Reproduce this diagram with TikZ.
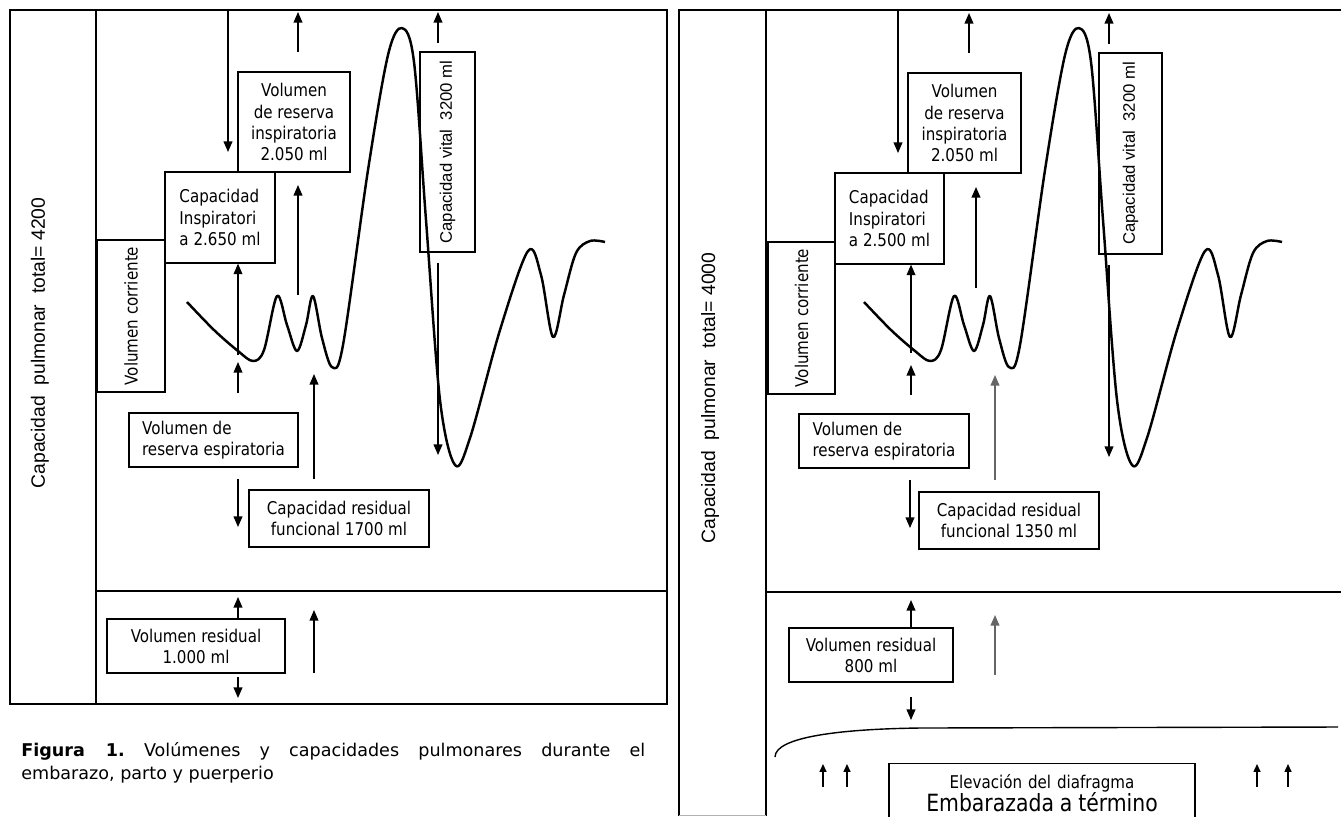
\documentclass[tikz,border=0pt]{standalone}
\usepackage{fontspec}
\setmainfont{DejaVu Sans}
\newfontfamily\boxfont[FakeStretch=0.86]{DejaVu Sans}
\newfontfamily\labelfont{Liberation Sans}
\usetikzlibrary{arrows.meta}
\frenchspacing

\newcommand\spiro[1]{%
  \draw[curve, shift={(#1,0)}] plot[smooth, tension=.55] coordinates {
    (187,302) (214,330) (238,351) (253,361) (264,350) (277,296) (287,325)
    (297,351) (306,325) (313,296) (322,338) (332,367) (343,345) (368,170)
    (388,55) (402,28) (414,62) (426,220) (440,400) (455,465) (470,438)
    (500,330) (528,251) (541,275) (553,337) (564,295) (576,253) (590,241)
    (605,242)};}

\begin{document}
\begin{tikzpicture}[x=0.02cm, y=-0.02cm,
    box/.style={draw, line width=.7pt, inner sep=0pt, align=center,
                font=\boxfont\fontsize{10}{12}\selectfont},
    vital/.style={box, rotate=90, font=\labelfont\fontsize{9.5}{11}\selectfont},
    arr/.style={line width=.7pt, -{Triangle[length=6pt,width=5pt]}},
    tinyarr/.style={line width=.7pt, -{Triangle[length=4.5pt,width=4pt]}},
    frame/.style={line width=.8pt},
    curve/.style={line width=1.4pt, line join=round},
    total/.style={rotate=90, font=\labelfont\fontsize{11}{13}\selectfont}]
  \useasboundingbox (0,0) rectangle (1341,816);
  \clip (0,0) rectangle (1341,816);

  % embarazo
  \draw[frame] (10,10) rectangle (667,704);
  \draw[frame] (96,10) -- (96,704);
  \draw[frame] (96,591) -- (667,591);
  \node[total] (ltot) at (40,343) {Capacidad\ \ pulmonar\ \ total= 4200};
  \node[box, rotate=90, minimum width=30.4mm, minimum height=13.6mm] (lvc) at (131,316) {Volumen corriente};
  \node[box, align=left, minimum width=22mm, minimum height=18.2mm] (lci) at (220,217.5) {Capacidad\\Inspiratori\\a 2.650 ml};
  \node[box, minimum width=22.4mm, minimum height=20mm] (lvri) at (294,122) {Volumen\\de reserva\\inspiratoria\\2.050 ml};
  \node[vital, minimum width=40mm, minimum height=11mm] (lcv) at (447.5,152) {Capacidad vital\ \ 3200 ml};
  \node[box, align=left, minimum width=33.8mm, minimum height=10.8mm] (lvre) at (213.5,440) {Volumen de\\reserva espiratoria};
  \node[box, minimum width=36mm, minimum height=11.4mm] (lcrf) at (339,518.5) {Capacidad residual\\funcional 1700 ml};
  \node[box, minimum width=35.6mm, minimum height=10.8mm] (lvr) at (196,646) {Volumen residual\\1.000 ml};
  \spiro{0}

  \coordinate (l1a) at (228,10); \coordinate (l1b) at (228,152); \draw[arr] (l1a) -- (l1b);
  \coordinate (l2a) at (298,52); \coordinate (l2b) at (298,12); \draw[arr] (l2a) -- (l2b);
  \coordinate (l3a) at (438,43); \coordinate (l3b) at (438,12); \draw[arr] (l3a) -- (l3b);
  \coordinate (l4a) at (298,295); \coordinate (l4b) at (298,185); \draw[arr] (l4a) -- (l4b);
  \coordinate (l5a) at (238,355); \draw[arr] (l5a) -- (l5a |- lci.south);
  \coordinate (l6a) at (238,393); \coordinate (l6b) at (238,362); \draw[arr] (l6a) -- (l6b);
  \coordinate (l7a) at (314,479); \coordinate (l7b) at (314,374); \draw[arr] (l7a) -- (l7b);
  \coordinate (l8a) at (438,263); \coordinate (l8b) at (438,455); \draw[arr] (l8a) -- (l8b);
  \coordinate (l9a) at (238,479); \coordinate (l9b) at (238,527); \draw[arr] (l9a) -- (l9b);
  \coordinate (l10b) at (238,597); \draw[arr] (l10b |- lvr.north) -- (l10b);
  \coordinate (l11a) at (314,673); \coordinate (l11b) at (314,610); \draw[arr] (l11a) -- (l11b);
  \coordinate (l12a) at (238,677); \coordinate (l12b) at (238,698); \draw[arr] (l12a) -- (l12b);

  \node[anchor=north west, inner sep=0pt, align=left, font=\fontsize{10}{13}\selectfont] (cap) at (21,742)
    {\makebox[124.8mm][s]{\textbf{Figura 1.} Volúmenes y capacidades pulmonares durante el}\\embarazo, parto y puerperio};

  % a termino
  \draw[frame] (679,816) -- (679,10) -- (1341,10);
  \draw[frame] (766,10) -- (766,816);
  \draw[frame] (766,592) -- (1341,592);
  \draw[gray!60] (679,815) -- (766,815);
  \node[total] (rtot) at (710,398) {Capacidad\ \ pulmonar\ \ total= 4000};
  \node[box, rotate=90, minimum width=30.4mm, minimum height=13.4mm] (rvc) at (801.5,318) {Volumen corriente};
  \node[box, align=left, minimum width=21.8mm, minimum height=18.2mm] (rci) at (889.5,218.5) {Capacidad\\Inspiratori\\a 2.500 ml};
  \node[box, minimum width=22.6mm, minimum height=20mm] (rvri) at (964.5,123) {Volumen\\de reserva\\inspiratoria\\2.050 ml};
  \node[vital, minimum width=40.2mm, minimum height=12.6mm] (rcv) at (1130.5,153.5) {Capacidad vital\ \ 3200 ml};
  \node[box, align=left, minimum width=34mm, minimum height=10.8mm] (rvre) at (884,441) {Volumen de\\reserva espiratoria};
  \node[box, minimum width=36mm, minimum height=11.4mm] (rcrf) at (1009,520.5) {Capacidad residual\\funcional 1350 ml};
  \node[box, minimum width=32.8mm, minimum height=10.8mm] (rvr) at (871,655) {Volumen residual\\800 ml};
  \spiro{677}

  \coordinate (r1a) at (898,10); \coordinate (r1b) at (898,153); \draw[arr] (r1a) -- (r1b);
  \coordinate (r2a) at (969,53); \coordinate (r2b) at (969,13); \draw[arr] (r2a) -- (r2b);
  \coordinate (r3a) at (1109,44); \coordinate (r3b) at (1109,13); \draw[arr] (r3a) -- (r3b);
  \coordinate (r4a) at (976,288); \coordinate (r4b) at (976,187); \draw[arr] (r4a) -- (r4b);
  \coordinate (r5a) at (911,353); \draw[arr] (r5a) -- (r5a |- rci.south);
  \coordinate (r6a) at (911,395); \coordinate (r6b) at (911,365); \draw[arr] (r6a) -- (r6b);
  \coordinate (r7a) at (995,480); \coordinate (r7b) at (995,375); \draw[arr, black!60] (r7a) -- (r7b);
  \coordinate (r8a) at (1109,265); \coordinate (r8b) at (1109,457); \draw[arr] (r8a) -- (r8b);
  \coordinate (r9a) at (910,480); \coordinate (r9b) at (910,528); \draw[arr] (r9a) -- (r9b);
  \coordinate (r10b) at (911,600); \draw[arr] (r10b |- rvr.north) -- (r10b);
  \coordinate (r11a) at (995,675); \coordinate (r11b) at (995,615); \draw[arr, black!60] (r11a) -- (r11b);
  \coordinate (r12a) at (911,697); \coordinate (r12b) at (911,720); \draw[arr] (r12a) -- (r12b);

  \coordinate (dia) at (775,757); \coordinate (diaend) at (1338,727);
  \draw[frame] (dia) .. controls (775,737) and (840,729) .. (920,728) -- (diaend);
  \coordinate (u1a) at (823,787); \coordinate (u1b) at (823,764); \draw[tinyarr] (u1a) -- (u1b);
  \coordinate (u2a) at (847,787); \coordinate (u2b) at (847,764); \draw[tinyarr] (u2a) -- (u2b);
  \coordinate (u3a) at (1257,787); \coordinate (u3b) at (1257,764); \draw[tinyarr] (u3a) -- (u3b);
  \coordinate (u4a) at (1288,787); \coordinate (u4b) at (1288,764); \draw[tinyarr] (u4a) -- (u4b);
  \node[box, anchor=north, text width=61.2mm, inner ysep=2.2mm] (elev) at (1042,763)
    {Elevación del diafragma\\[-1pt]{\fontsize{13.5}{15}\selectfont Embarazada a término}\\[6mm]};
\end{tikzpicture}
\end{document}
